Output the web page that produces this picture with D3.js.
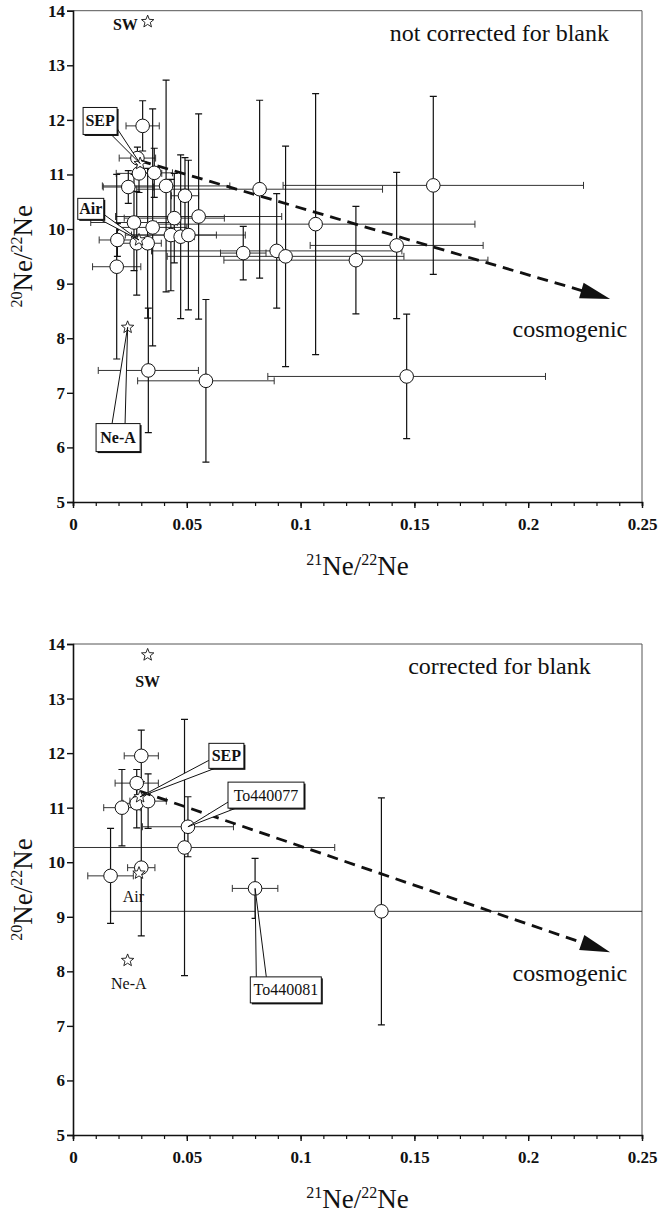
<!DOCTYPE html>
<html><head><meta charset="utf-8">
<script src="https://cdn.jsdelivr.net/npm/d3@7"></script>
<style>
body{margin:0;background:#fff;}
svg{display:block;font-family:"Liberation Serif","Times New Roman",Times,serif;}
</style></head><body>
<svg id="c" width="661" height="1217"></svg>
<script>
// ---------- axes ----------
const xDomain = [0, 0.25];
const yDomain = [5, 14];
const xMajorTicks = [0, 0.05, 0.1, 0.15, 0.2, 0.25];
const xTickLabels = ["0", "0.05", "0.1", "0.15", "0.2", "0.25"];
const xMinorTicks = d3.range(0, 0.2501, 0.01);
const yTicks = [5, 6, 7, 8, 9, 10, 11, 12, 13, 14];

// ---------- top panel: not corrected for blank ----------
const topX    = [0.0306,0.0283,0.0290,0.0357,0.0243,0.0409,0.0492,0.0820,0.0268,0.0445,0.0552,0.1066,0.0350,0.0195,0.0280,0.0328,0.0430,0.0473,0.0507,0.0748,0.0895,0.0934,0.1243,0.1583,0.1422,0.1466,0.0192,0.0331,0.0584];
const topXErr = [0.0073,0.0080,0.0100,0.0080,0.0110,0.0280,0.0060,0.0540,0.0190,0.0220,0.0365,0.0700,0.0150,0.0080,0.0070,0.0060,0.0200,0.0060,0.0250,0.0100,0.0550,0.0520,0.0580,0.0660,0.0380,0.0610,0.0106,0.0220,0.0300];
const topY    = [11.89,11.30,11.02,11.03,10.77,10.79,10.61,10.73,10.12,10.20,10.23,10.09,10.03,9.80,9.74,9.74,9.89,9.86,9.89,9.56,9.60,9.50,9.43,10.80,9.70,7.30,9.31,7.41,7.22];
const topYErr = [0.46,0.20,0.35,0.45,0.30,1.94,0.70,1.63,0.88,0.82,1.88,2.39,2.17,0.30,0.95,1.37,1.02,1.50,1.37,0.49,1.05,2.02,0.985,1.63,1.34,1.14,1.69,1.14,1.49];

// ---------- bottom panel: corrected for blank ----------
const botX    = [0.0300,0.0280,0.0215,0.0280,0.0330,0.0300,0.0165,0.0490,0.0505,0.0800,0.1355];
const botXErr = [0.0075,0.0095,0.0080,0.0060,0.0080,0.0060,0.0100,0.0660,0.0200,0.0100,0.1190];
const botY    = [11.95,11.45,11.00,11.08,11.12,9.90,9.75,10.27,10.65,9.52,9.10];
const botYErr = [0.47,0.25,0.70,0.45,0.50,1.25,0.87,2.35,0.55,0.55,2.08];

// ---------- reference compositions (stars) ----------
const refNames = ["SW", "SEP", "Air", "Ne-A"];
const refX = [0.0328, 0.0295, 0.029, 0.024];
const refY = [13.8, 11.2, 9.8, 8.2];

// ---------- cosmogenic trend arrows ----------
const arrowX = [0.0295, 0.236];
const arrowTopY = [11.25, 8.72];
const arrowBotY = [11.30, 8.35];

// ---------- layout ----------
const L = 73, R = 642;
const panels = [
  {top: 10.7, bottom: 502, xs: topX, xe: topXErr, ys: topY, ye: topYErr, ay: arrowTopY,
   title: "not corrected for blank", titleX: 0.2355, titleY: 13.45, cosmoY: 8.02},
  {top: 644, bottom: 1135, xs: botX, xe: botXErr, ys: botY, ye: botYErr, ay: arrowBotY,
   title: "corrected for blank", titleX: 0.2275, titleY: 13.45, cosmoY: 7.82}
];

const svg = d3.select("#c");
const defs = svg.append("defs");
const ink = "#111";
const serif = "Liberation Serif, Times New Roman, serif";

function star(cx, cy, ro, ri) {
  const pts = [];
  for (let i = 0; i < 10; i++) {
    const r = i % 2 ? ri : ro;
    const a = -Math.PI / 2 + i * Math.PI / 5;
    pts.push([cx + r * Math.cos(a), cy + r * Math.sin(a)]);
  }
  return "M" + pts.map(p => p.join(",")).join("L") + "Z";
}

function isoTitle(sel, a, b) {
  sel.append("tspan").attr("font-size", 16).attr("dy", -10).text(a);
  sel.append("tspan").attr("dy", 10).text("Ne/");
  sel.append("tspan").attr("font-size", 16).attr("dy", -10).text(b);
  sel.append("tspan").attr("dy", 10).text("Ne");
}

panels.forEach((p, pi) => {
  const x = d3.scaleLinear().domain(xDomain).range([L, R]);
  const y = d3.scaleLinear().domain(yDomain).range([p.bottom, p.top]);
  const g = svg.append("g");

  defs.append("clipPath").attr("id", "clip" + pi).append("rect")
    .attr("x", L).attr("y", p.top).attr("width", R - L).attr("height", p.bottom - p.top);

  // frame (top/right, light)
  g.append("path").attr("d", `M${L},${p.top}H${R}V${p.bottom}`)
    .attr("fill", "none").attr("stroke", "#555").attr("stroke-width", 1);

  // x axis
  const xa = g.append("g").attr("transform", `translate(0,${p.bottom})`)
    .call(d3.axisBottom(x).tickValues(xMinorTicks).tickSize(4).tickFormat(""));
  xa.select(".domain").attr("stroke", ink).attr("stroke-width", 1.6);
  xa.selectAll(".tick line").attr("stroke", ink).attr("stroke-width", 1.2);
  const xm = g.append("g").attr("transform", `translate(0,${p.bottom})`)
    .attr("font-family", serif)
    .call(d3.axisBottom(x).tickValues(xMajorTicks).tickSize(6).tickPadding(10)
      .tickFormat((d, i) => xTickLabels[i]));
  xm.attr("font-family", serif);
  xm.select(".domain").remove();
  xm.selectAll(".tick line").attr("stroke", ink).attr("stroke-width", 1.4);
  xm.selectAll("text").style("font-family", serif)
    .attr("font-size", 17).attr("font-weight", "bold").attr("fill", ink);

  // y axis
  const ya = g.append("g").attr("transform", `translate(${L},0)`)
    .call(d3.axisLeft(y).tickValues(yTicks).tickSize(6).tickPadding(2).tickFormat(d3.format("d")));
  ya.attr("font-family", serif);
  ya.select(".domain").attr("stroke", ink).attr("stroke-width", 1.6);
  ya.selectAll(".tick line").attr("stroke", ink).attr("stroke-width", 1.4);
  ya.selectAll("text").style("font-family", serif)
    .attr("font-size", 17).attr("font-weight", "bold").attr("fill", ink);

  // axis titles
  const xt = g.append("text").attr("x", (L + R) / 2).attr("y", p.bottom + 73)
    .attr("text-anchor", "middle").attr("font-size", 27).attr("fill", ink);
  isoTitle(xt, "21", "22");

  const yt = g.append("text")
    .attr("transform", `translate(32,${(p.top + p.bottom) / 2}) rotate(-90)`)
    .attr("text-anchor", "middle").attr("font-size", 27).attr("fill", ink);
  isoTitle(yt, "20", "22");

  // panel title
  g.append("text").attr("x", x(p.titleX)).attr("y", y(p.titleY))
    .attr("text-anchor", "end").attr("font-size", 24).attr("fill", ink).text(p.title);
  g.append("text").attr("x", x(0.2435)).attr("y", y(p.cosmoY))
    .attr("text-anchor", "end").attr("font-size", 24).attr("fill", ink).text("cosmogenic");

  const data = p.xs.map((v, i) => ({x: v, xe: p.xe[i], y: p.ys[i], ye: p.ye[i]}));
  const pg = g.append("g").attr("clip-path", `url(#clip${pi})`);
  const cap = 3.5;

  // horizontal error bars
  data.forEach(d => {
    const x0 = x(d.x - d.xe), x1 = x(d.x + d.xe), yy = y(d.y);
    pg.append("path")
      .attr("d", `M${x0},${yy}H${x1}M${x0},${yy - cap}V${yy + cap}M${x1},${yy - cap}V${yy + cap}`)
      .attr("stroke", "#333").attr("stroke-width", 1).attr("fill", "none");
  });
  // vertical error bars
  data.forEach(d => {
    const y0 = y(d.y - d.ye), y1 = y(d.y + d.ye), xx = x(d.x);
    pg.append("path")
      .attr("d", `M${xx},${y0}V${y1}M${xx - cap},${y0}H${xx + cap}M${xx - cap},${y1}H${xx + cap}`)
      .attr("stroke", ink).attr("stroke-width", 1.2).attr("fill", "none");
  });

  // trend arrow
  {
    const sx = x(arrowX[0]), sy = y(p.ay[0]), ax = x(arrowX[1]), ay = y(p.ay[1]);
    const ang = Math.atan2(ay - sy, ax - sx);
    const len = 30, hw = 8;
    const bx = ax - len * Math.cos(ang), by = ay - len * Math.sin(ang);
    const nx = -Math.sin(ang), ny = Math.cos(ang);
    g.append("line").attr("x1", sx).attr("y1", sy).attr("x2", bx + 4 * Math.cos(ang)).attr("y2", by + 4 * Math.sin(ang))
      .attr("stroke", ink).attr("stroke-width", 2.8).attr("stroke-dasharray", "11,7");
    g.append("path").attr("d", `M${ax},${ay}L${bx + nx * hw},${by + ny * hw}L${bx - nx * hw},${by - ny * hw}Z`)
      .attr("fill", ink);
  }

  // circles
  pg.selectAll("circle").data(data).join("circle")
    .attr("cx", d => x(d.x)).attr("cy", d => y(d.y)).attr("r", 6.8)
    .attr("fill", "#fff").attr("stroke", ink).attr("stroke-width", 1);

  // callouts
  function callout(label, cx, cy, w, h, base, tx, ty, bold) {
    const bx = x(cx) - w / 2, by = y(cy) - h / 2;
    g.append("path")
      .attr("d", `M${bx + base[0][0]},${by + base[0][1]}L${x(tx)},${y(ty)}L${bx + base[1][0]},${by + base[1][1]}`)
      .attr("fill", "#fff").attr("stroke", ink).attr("stroke-width", 1);
    g.append("rect").attr("x", bx + 1.5).attr("y", by + 1.5).attr("width", w).attr("height", h).attr("fill", ink);
    g.append("rect").attr("x", bx).attr("y", by).attr("width", w).attr("height", h)
      .attr("fill", "#fff").attr("stroke", ink).attr("stroke-width", 1);
    g.append("text").attr("x", bx + w / 2).attr("y", by + h / 2 + 5.5).attr("text-anchor", "middle")
      .attr("font-size", 16).attr("font-weight", bold ? "bold" : "normal").attr("fill", ink).text(label);
  }

  // stars
  refX.forEach((rx, i) => {
    g.append("path").attr("d", star(x(rx), y(refY[i]), 6.5, 2.8))
      .attr("fill", "#fff").attr("stroke", ink).attr("stroke-width", 0.9);
  });

  if (pi === 0) {
    g.append("text").attr("x", x(0.0285)).attr("y", y(13.64)).attr("text-anchor", "end")
      .attr("font-size", 16).attr("font-weight", "bold").attr("fill", ink).text(refNames[0]);
    callout(refNames[1], 0.0119, 11.98, 34, 27, [[28, 27], [34, 21]], refX[1], refY[1], true);
    callout(refNames[2], 0.0078, 10.37, 26, 21, [[22, 21], [26, 16]], refX[2], refY[2], true);
    callout(refNames[3], 0.0198, 6.18, 44, 28, [[16, 0], [29, 0]], refX[3], refY[3], true);
  } else {
    g.append("text").attr("x", x(refX[0])).attr("y", y(13.22)).attr("text-anchor", "middle")
      .attr("font-size", 16).attr("font-weight", "bold").attr("fill", ink).text(refNames[0]);
    g.append("text").attr("x", x(0.0265)).attr("y", y(9.27)).attr("text-anchor", "middle")
      .attr("font-size", 16).attr("fill", ink).text(refNames[2]);
    g.append("text").attr("x", x(0.0245)).attr("y", y(7.67)).attr("text-anchor", "middle")
      .attr("font-size", 16).attr("fill", ink).text(refNames[3]);
    callout(refNames[1], 0.0674, 11.95, 35, 25, [[0, 17], [6, 25]], refX[1], refY[1], true);
    callout("To440077", 0.0848, 11.23, 76, 26, [[0, 20], [8, 26]], botX[8], botY[8], false);
    callout("To440081", 0.0935, 7.66, 71, 26, [[6, 0], [16, 0]], botX[9], botY[9], false);
  }
});
</script>
</body></html>
